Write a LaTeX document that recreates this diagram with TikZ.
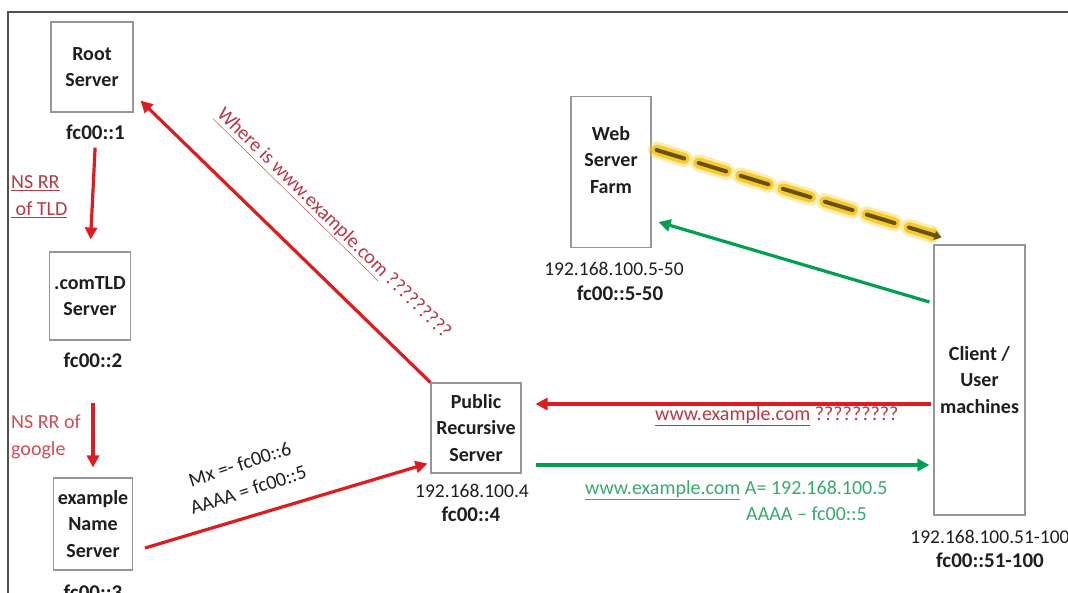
\documentclass[tikz,border=0pt]{standalone}
\usepackage{fontspec}
\setmainfont{Carlito}
\usetikzlibrary{arrows.meta}

\definecolor{framecol}{RGB}{80,80,80}
\definecolor{boxgray}{RGB}{150,150,150}
\definecolor{txtgray}{RGB}{30,30,30}
\definecolor{arrowred}{RGB}{222,28,32}
\definecolor{notered}{RGB}{185,55,70}
\definecolor{lightred}{RGB}{212,75,85}
\definecolor{arrowgreen}{RGB}{0,160,80}
\definecolor{notegreen}{RGB}{55,170,110}
\definecolor{glow}{RGB}{246,200,30}
\definecolor{dashbrown}{RGB}{105,80,20}

\begin{document}
\begin{tikzpicture}[
  x=1pt, y=-1pt,
  box/.style={draw=boxgray, line width=1.1pt, fill=white, inner sep=0pt,
    align=center, text=txtgray, font=\fontsize{20}{26.5}\selectfont\bfseries},
  ipv4/.style={inner sep=0pt, text=txtgray, font=\fontsize{19.5}{22}\selectfont},
  ipv6/.style={inner sep=0pt, text=txtgray, font=\fontsize{21}{22}\selectfont\bfseries},
  note/.style={inner sep=0pt, align=left, font=\fontsize{20}{27}\selectfont},
  redarrow/.style={draw=arrowred, line width=3.2pt, -{Triangle[length=12pt,width=12pt]}},
  greenarrow/.style={draw=arrowgreen, line width=3.2pt, -{Triangle[length=12pt,width=12pt]}},
  dashflow/.style={line cap=round, dash pattern=on 29pt off 15pt},
]
\useasboundingbox (0,0) rectangle (1068,593);
\clip (0,0) rectangle (1068,593);

% outer frame (top and left edges)
\draw[framecol, line width=2pt] (1068,12) -- (8,12) -- (8,593);

% servers
\node[box, minimum width=82pt, minimum height=90pt] (root) at (92,67) {Root\\Server};
\node[box, minimum width=81pt, minimum height=88pt] (tld) at (90,296) {.comTLD\\Server};
\node[box, minimum width=79pt, minimum height=92pt] (ens) at (93,524) {example\\Name\\Server};
\node[box, minimum width=90pt, minimum height=90pt] (pub) at (476,428) {Public\\Recursive\\Server};
\node[box, minimum width=80pt, minimum height=151pt] (web) at (611,172) {};
\node[box, draw=none, fill=none] (webtxt) at (611,160) {Web\\Server\\Farm};
\node[box, minimum width=91pt, minimum height=270pt] (client) at (979.5,380) {Client /\\User\\machines};

% addresses
\node[ipv6] (rootip) at (95.5,132) {fc00::1};
\node[ipv6] (tldip) at (93,360) {fc00::2};
\node[ipv6] (ensip) at (93,592) {fc00::3};
\node[ipv4] (pubv4) at (472,491) {192.168.100.4};
\node[ipv6] (pubv6) at (471,514) {fc00::4};
\node[ipv4] (webv4) at (614,269) {192.168.100.5-50};
\node[ipv6] (webv6) at (620,293) {fc00::5-50};
\node[ipv4] (clientv4) at (990,537) {192.168.100.51-100};
\node[ipv6] (clientv6) at (990,560) {fc00::51-100};

% delegation chain
\draw[redarrow, shorten <=8pt, shorten >=12pt] (rootip.south) -- (tld.north);
\draw[redarrow, shorten <=35pt, shorten >=10pt] (tldip.south) -- (ens.north);
\node[note, text=notered, anchor=north west] (nstld) at (11,175)
  {\underline{NS RR}\\\underline{\ of TLD}};
\node[note, text=lightred, anchor=north west] (nsgoogle) at (11,415)
  {NS RR of\\google};

% recursive resolution
\draw[redarrow] (pub.north west) -- ([xshift=7pt,yshift=12pt]root.south east);
\node[note, text=notered, rotate=-44.5, anchor=center] (where) at (333,224)
  {\underline{Where is www.example.com} ?????????};

\draw[redarrow] ([xshift=12pt,yshift=-24pt]ens.east) -- ([xshift=-3pt,yshift=10pt]pub.south west);
\node[note, text=txtgray, align=center, rotate=18, anchor=center] (mx) at (244,477)
  {Mx =- fc00::6\\AAAA = fc00::5};

% client query and answer
\draw[redarrow] ([xshift=-2pt,yshift=-24pt]client.west) -- ([xshift=14pt,yshift=24pt]pub.east);
\node[note, text=notered, anchor=west] (query) at (655,416)
  {\underline{www.example.com} ?????????};

\draw[greenarrow] ([xshift=14pt,yshift=-37pt]pub.east) -- ([xshift=-4pt,yshift=-85pt]client.west);
\node[note, text=notegreen, anchor=west] (ans1) at (585,490)
  {\underline{www.example.com} A= 192.168.100.5};
\node[note, text=notegreen, anchor=west] (ans2) at (746,514)
  {AAAA -- fc00::5};

% web traffic
\draw[greenarrow] ([xshift=-4pt,yshift=78pt]client.west) -- ([xshift=7pt,yshift=-50pt]web.east);

% highlighted data flow: soft glow under a dark dashed line
\draw[glow, opacity=0.35, line width=17pt, dashflow, -{Triangle[length=11pt,width=17pt]}]
  ([xshift=5pt,yshift=22pt]web.east) -- ([xshift=8pt,yshift=7pt]client.north west);
\draw[glow, opacity=0.9, line width=11pt, dashflow, -{Triangle[length=9pt,width=13pt]}]
  ([xshift=5pt,yshift=22pt]web.east) -- ([xshift=8pt,yshift=7pt]client.north west);
\draw[dashbrown, line width=4pt, dashflow, -{Triangle[length=7pt,width=9pt]}]
  ([xshift=5pt,yshift=22pt]web.east) -- ([xshift=8pt,yshift=7pt]client.north west);
\end{tikzpicture}
\end{document}
